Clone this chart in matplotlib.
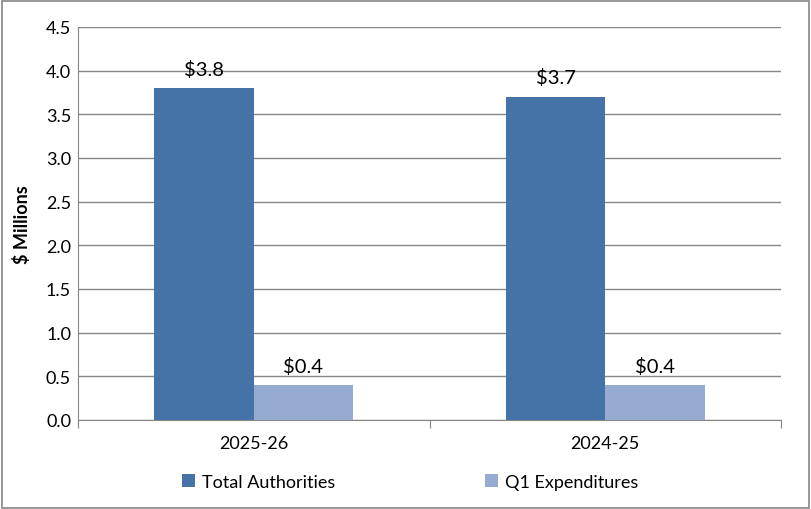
import matplotlib
matplotlib.use("Agg")
import matplotlib.pyplot as plt
import numpy as np

plt.rcParams['font.family'] = ['Lato', 'DejaVu Sans']

years = ['2025-26', '2024-25']
total_authorities = [3.8, 3.7]
q1_expenditures = [0.4, 0.4]
series_names = ['Total Authorities', 'Q1 Expenditures']
colors = ['#4573a7', '#96abd2']

fig = plt.figure(figsize=(8.11, 5.10), dpi=100)
ax = fig.add_axes([78/811, 1 - 421/510, (781-78)/811, (421-28)/510])

x = np.arange(len(years))
w = 0.283
b1 = ax.bar(x - w/2, total_authorities, w, color=colors[0], label=series_names[0], zorder=3)
b2 = ax.bar(x + w/2, q1_expenditures, w, color=colors[1], label=series_names[1], zorder=3)

for bars in (b1, b2):
        for rect in bars:
                v = rect.get_height()
                ax.text(rect.get_x() + rect.get_width()/2, v + 0.12, f'${v:.1f}',
                        ha='center', va='bottom', fontsize=14.5)

ax.set_xlim(-0.5, 1.5)
ax.set_ylim(0, 4.5)
ax.set_yticks(np.arange(0, 4.51, 0.5))
ax.set_yticklabels([f'{t:.1f}' for t in np.arange(0, 4.51, 0.5)], fontsize=13)
ax.set_xticks([-0.5, 0.5, 1.5], minor=False)
ax.set_xticklabels(['', '', ''])
ax.set_xticks(x, minor=True)
ax.set_xticklabels(years, minor=True, fontsize=13)
ax.tick_params(axis='x', which='major', length=6, color='#868686', direction='out')
ax.tick_params(axis='x', which='minor', length=0, pad=11)
ax.tick_params(axis='y', length=0, pad=5)

ax.grid(axis='y', color='#868686', linewidth=1, zorder=0)
for s in ['top', 'right']:
        ax.spines[s].set_visible(False)
ax.spines['left'].set_color('#868686')
ax.spines['bottom'].set_color('#868686')

ax.set_ylabel('$ Millions', fontsize=13, fontweight='bold', labelpad=11)

fig.legend(handles=[b1, b2], labels=series_names, loc='center', ncol=2,
           bbox_to_anchor=(0.506, 1 - 483/510), frameon=False, fontsize=13,
           handlelength=0.7, handleheight=0.7, handletextpad=0.4, columnspacing=8.3)

border = plt.Rectangle((0.002, 0.002), 0.996, 0.994, transform=fig.transFigure,
                       fill=False, edgecolor='#868686', linewidth=1.2)
fig.patches.append(border)

fig.savefig('out.png', dpi=100)
